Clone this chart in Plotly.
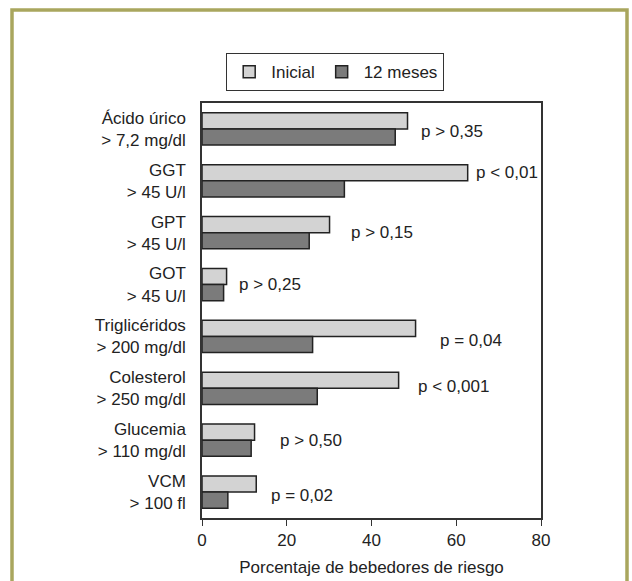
import plotly.graph_objects as go

categories = [
    "Ácido úrico<br>> 7,2 mg/dl",
    "GGT<br>> 45 U/l",
    "GPT<br>> 45 U/l",
    "GOT<br>> 45 U/l",
    "Triglicéridos<br>> 200 mg/dl",
    "Colesterol<br>> 250 mg/dl",
    "Glucemia<br>> 110 mg/dl",
    "VCM<br>> 100 fl",
]
inicial = [48.5, 62.7, 30.1, 5.8, 50.4, 46.4, 12.4, 12.8]
meses12 = [45.6, 33.6, 25.3, 5.1, 26.1, 27.2, 11.6, 6.1]
p_labels = ["p > 0,35", "p < 0,01", "p > 0,15", "p > 0,25",
            "p = 0,04", "p < 0,001", "p > 0,50", "p = 0,02"]
x_ticks = [0, 20, 40, 60, 80]

# label placement (x in data units, vertical shift in px)
p_x = [51.2, 64.1, 34.8, 8.2, 55.7, 50.5, 18.0, 15.7]
p_shift = [-3, 8, 0, 0, -4, 2, 0, -3]

FONT = "Liberation Sans, Arial, sans-serif"
TXT = "#222222"
FS = 17

fig = go.Figure()
fig.add_trace(go.Bar(
    y=categories, x=inicial, orientation="h", name="Inicial",
    marker=dict(color="#d3d3d3", line=dict(color="#222222", width=1.5)),
))
fig.add_trace(go.Bar(
    y=categories, x=meses12, orientation="h", name="12 meses",
    marker=dict(color="#7b7b7b", line=dict(color="#222222", width=1.5)),
))

for cat, lab, px, sh in zip(categories, p_labels, p_x, p_shift):
    fig.add_annotation(x=px, y=cat, text=lab, xref="x", yref="y",
                       xanchor="left", yanchor="middle", showarrow=False,
                       yshift=sh, font=dict(family=FONT, size=FS, color=TXT))

l, r, t, b = 202, 91, 103, 63
W, H = 632, 581
pw, ph = W - l - r, H - t - b
fig.add_shape(type="rect", xref="paper", yref="paper",
              x0=(12 - l) / pw, x1=(627 - l) / pw,
              y0=(H - b - 600) / ph, y1=(H - b - 10) / ph,
              line=dict(color="#a9a65e", width=3.5), fillcolor="rgba(0,0,0,0)",
              layer="below")

fig.update_layout(
    width=W, height=H,
    margin=dict(l=l, r=r, t=t, b=b, autoexpand=False),
    paper_bgcolor="white", plot_bgcolor="white",
    barmode="group", bargap=0.38, bargroupgap=0,
    font=dict(family=FONT, size=FS, color=TXT),
    showlegend=True,
    legend=dict(orientation="h", x=(226 - l) / pw, y=(H - b - 53) / ph,
                xanchor="left", yanchor="top",
                bordercolor="#333333", borderwidth=1.2,
                font=dict(family=FONT, size=FS, color=TXT),
                bgcolor="white", itemwidth=34),
    xaxis=dict(range=[0, 80], tickvals=x_ticks, ticks="outside", ticklen=6,
               tickcolor="#333333", showgrid=False, zeroline=False,
               showline=True, linecolor="#333333", linewidth=1.5, mirror=True,
               automargin=False,
               title=dict(text="Porcentaje de bebedores de riesgo", standoff=12,
                          font=dict(family=FONT, size=FS, color=TXT)),
               tickfont=dict(family=FONT, size=FS, color=TXT)),
    yaxis=dict(autorange="reversed", showgrid=False, zeroline=False,
               showline=True, linecolor="#333333", linewidth=1.5, mirror=True,
               ticks="", ticklabelstandoff=11, automargin=False,
               tickfont=dict(family=FONT, size=FS, color=TXT)),
)

fig.write_html("out.html", config={"displayModeBar": False},
               post_script="document.body.style.margin='0';document.body.style.overflow='hidden';")
